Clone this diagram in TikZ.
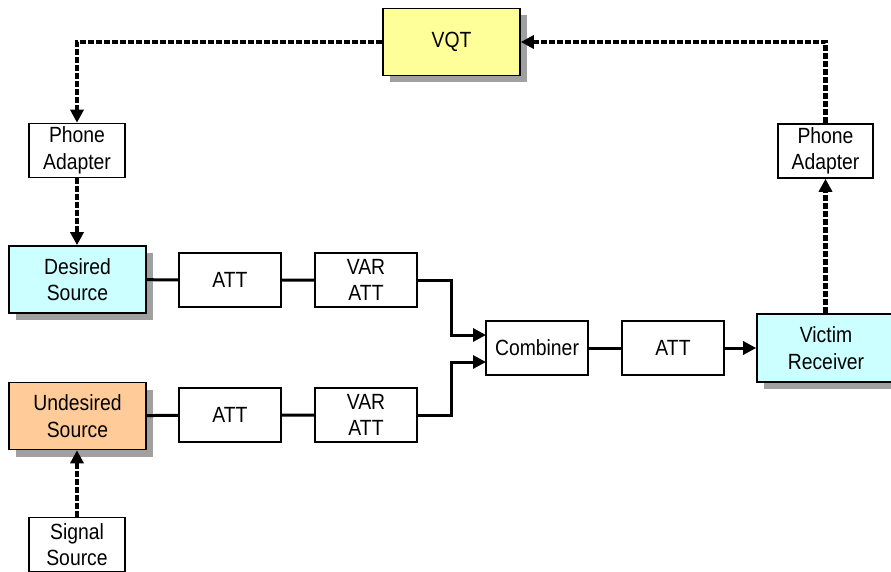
\documentclass[tikz,border=0pt]{standalone}
\usepackage{fontspec}
\setmainfont{Liberation Sans}[FakeStretch=0.88]
\usepackage{tikz}
\usetikzlibrary{arrows.meta,shadows}
\definecolor{vqtyellow}{HTML}{FFFF99}
\definecolor{srccyan}{HTML}{CCFFFF}
\definecolor{srcorange}{HTML}{FFCC99}
\definecolor{shadowgray}{HTML}{A0A0A0}

\begin{document}
\begin{tikzpicture}[x=1pt,y=-1pt,
  blk/.style={draw,line width=1.6pt,fill=white,inner sep=0pt,align=center,
    minimum width=102pt,minimum height=54pt,font=\fontsize{22}{26.5}\selectfont},
  small/.style={blk,minimum width=96pt},
  big/.style={blk,minimum width=137pt,minimum height=67pt,
    drop shadow={shadow xshift=7pt,shadow yshift=-7pt,fill=shadowgray,opacity=1}},
  wire/.style={line width=3pt},
  feed/.style={line width=4.6pt,dash pattern=on 6pt off 2pt},
  tip/.style={-{Triangle[length=13pt,width=13pt]}}]
\useasboundingbox (0,0) rectangle (891,572);

\node[big,fill=vqtyellow] (vqt) at (451.5,42) {VQT};
\node[small] (padL) at (77,150.5) {Phone\\Adapter};
\node[small,minimum width=95pt] (padR) at (825.5,151) {Phone\\Adapter};
\node[big,fill=srccyan] (desired) at (77.5,279.5) {Desired\\Source};
\node[blk] (att1) at (230,280) {ATT};
\node[blk] (var1) at (366,280) {VAR\\ATT};
\node[big,fill=srcorange] (undesired) at (77.5,416) {Undesired\\Source};
\node[blk] (att2) at (230,415) {ATT};
\node[blk] (var2) at (366,415) {VAR\\ATT};
\node[blk] (comb) at (537,348) {Combiner};
\node[blk] (att3) at (673,348) {ATT};
\node[big,minimum width=138pt,minimum height=68pt,fill=srccyan] (victim) at (826,348) {Victim\\Receiver};
\node[small] (sig) at (77,544.5) {Signal\\Source};

\coordinate (in1) at (486,335);
\coordinate (in2) at (486,362);

\draw[wire] (desired) -- (att1) -- (var1);
\draw[wire] (undesired) -- (att2) -- (var2);
\draw[wire,tip] (var1.east) -- ++(34,0) |- (in1);
\draw[wire,tip] (var2.east) -- ++(34,0) |- (in2);
\draw[wire] (comb) -- (att3);
\draw[wire,tip] (att3) -- (victim);

\draw[feed,tip] (vqt.west) -| (padL.north);
\draw[feed,tip] (padL.south) -- (padL |- desired.north);
\draw[feed,tip] (sig.north) -- (sig |- undesired.south);
\draw[feed,tip] (padR |- victim.north) -- (padR.south);
\draw[feed,tip] (padR.north) |- (vqt.east);

\end{tikzpicture}
\end{document}
